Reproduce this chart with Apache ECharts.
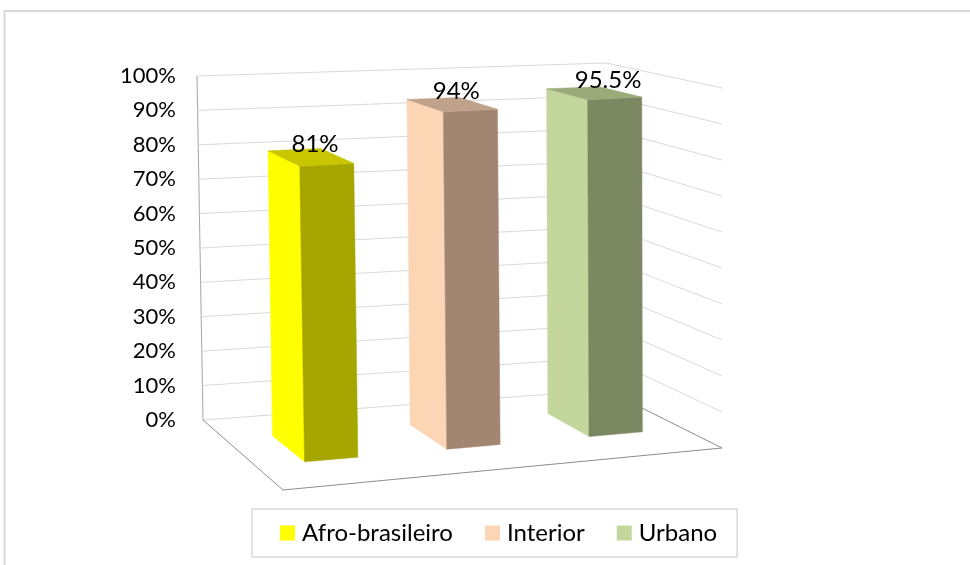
<!DOCTYPE html>
<html><head><meta charset="utf-8">
<script src="https://cdn.jsdelivr.net/npm/echarts@6/dist/echarts.min.js"></script>
<style>html,body{margin:0;padding:0;background:#fff}#main{width:970px;height:565px}</style>
</head><body><div id="main"></div>
<script>
const categories = ['Afro-brasileiro', 'Interior', 'Urbano'];
const values = [0.81, 0.94, 0.955];
const valueLabels = ['81%', '94%', '95.5%'];
const yTicks = [0, 0.1, 0.2, 0.3, 0.4, 0.5, 0.6, 0.7, 0.8, 0.9, 1];
const sideColors = ['#FFFF00', '#FCD5B5', '#C3D69B'];
const frontColors = ['#A6A600', '#A28672', '#7B8862'];
const topColors = ['#C8C600', '#C0A28A', '#9AAA79'];

const FONT = 'Lato, "Open Sans", sans-serif';
// projected corners of the 3D plot box (back/front, left/right, bottom/top)
const K = {
  b00: [203, 420], b01: [197, 76], b10: [606, 390], b11: [606, 63],
  f00: [283, 490], f01: [276, 111], f10: [722, 448], f11: [722, 88]
};
const U_SHIFT = 0.01, BAR_FRAC = 0.375, DEPTH0 = 0.28, DEPTH1 = 0.66;
function lerp(a, b, t) { return [a[0] + (b[0] - a[0]) * t, a[1] + (b[1] - a[1]) * t]; }
function P(u, v, w) {
  const b0 = lerp(K.b00, K.b10, u), b1 = lerp(K.b01, K.b11, u);
  const f0 = lerp(K.f00, K.f10, u), f1 = lerp(K.f01, K.f11, u);
  return lerp(lerp(b0, b1, v), lerp(f0, f1, v), w);
}
function line(a, b, color) {
  return { type: 'line', shape: { x1: a[0], y1: a[1], x2: b[0], y2: b[1] }, style: { stroke: color, lineWidth: 1 } };
}
function poly(pts, color) {
  return { type: 'polygon', shape: { points: pts }, style: { fill: color, stroke: color, lineWidth: 0.5 } };
}
function barRender(i) {
  return function (params, api) {
    const cs = params.coordSys;
    const c = api.coord([api.value(0), api.value(1)]);
    const band = api.size([1, 0])[0];
    const uc = (c[0] - cs.x) / cs.width + U_SHIFT;
    const hw = band * BAR_FRAC / 2 / cs.width;
    const val = (cs.y + cs.height - c[1]) / cs.height;
    const u0 = uc - hw, u1 = uc + hw, w0 = DEPTH0, w1 = DEPTH1;
    const tc = P(uc, val, (w0 + w1) / 2);
    return {
      type: 'group', children: [
        poly([P(u0, 0, w0), P(u0, val, w0), P(u0, val, w1), P(u0, 0, w1)], sideColors[i]),
        poly([P(u0, 0, w1), P(u0, val, w1), P(u1, val, w1), P(u1, 0, w1)], frontColors[i]),
        poly([P(u0, val, w0), P(u1, val, w0), P(u1, val, w1), P(u0, val, w1)], topColors[i]),
        { type: 'text', x: tc[0] - 19, y: tc[1] - 13, style: { text: valueLabels[i], fill: '#000', fontSize: 24, fontFamily: FONT, align: 'left', verticalAlign: 'middle' } }
      ]
    };
  };
}
function wallRender(params, api) {
  const cs = params.coordSys;
  const p = api.coord([0, api.value(1)]);
  const v = (cs.y + cs.height - p[1]) / cs.height;
  const floor = Math.abs(v) < 0.001;
  const ch = [line(P(0, v, 0), P(1, v, 0), '#d9d9d9'), line(P(1, v, 0), P(1, v, 1), floor ? '#8c8c8c' : '#d9d9d9')];
  if (floor) {
    ch.push(line(P(0, 0, 0), P(0, 0, 1), '#8c8c8c'));
    ch.push(line(P(0, 0, 1), P(1, 0, 1), '#8c8c8c'));
    ch.push(line(P(0, 0, 0), P(0, 1, 0), '#a6a6a6'));
  }
  return { type: 'group', children: ch };
}
const chart = echarts.init(document.getElementById('main'), null, { renderer: 'canvas' });
const series = [{ type: 'custom', name: 'walls', silent: true, z: 1, data: yTicks.map(t => [0, t]), renderItem: wallRender }];
categories.forEach((name, i) => {
  series.push({ type: 'custom', name: name, z: 2, data: [[i, values[i]]], itemStyle: { color: sideColors[i] }, renderItem: barRender(i) });
});
chart.setOption({
  animation: false,
  backgroundColor: '#fff',
  graphic: [{ type: 'rect', shape: { x: 4.5, y: 11, width: 1000, height: 600 }, style: { fill: 'none', stroke: '#d9d9d9', lineWidth: 2 }, silent: true }],
  grid: { left: 200, top: 76, width: 406, height: 344 },
  xAxis: { type: 'category', data: categories, show: false },
  yAxis: {
    type: 'value', min: 0, max: 1, interval: 0.1,
    axisLine: { show: false }, axisTick: { show: false }, splitLine: { show: false },
    axisLabel: { formatter: v => Math.round(v * 100) + '%', fontSize: 22, color: '#000', fontFamily: FONT, margin: 24 }
  },
  legend: {
    data: categories, left: 252, top: 509, itemWidth: 15, itemHeight: 15, itemGap: 32, icon: 'rect',
    borderColor: '#d9d9d9', borderWidth: 1.5, padding: [12, 20, 12, 28],
    textStyle: { fontFamily: FONT, fontSize: 24, color: '#000', padding: [0, 0, 0, 2] }
  },
  series: series
});
</script></body></html>
